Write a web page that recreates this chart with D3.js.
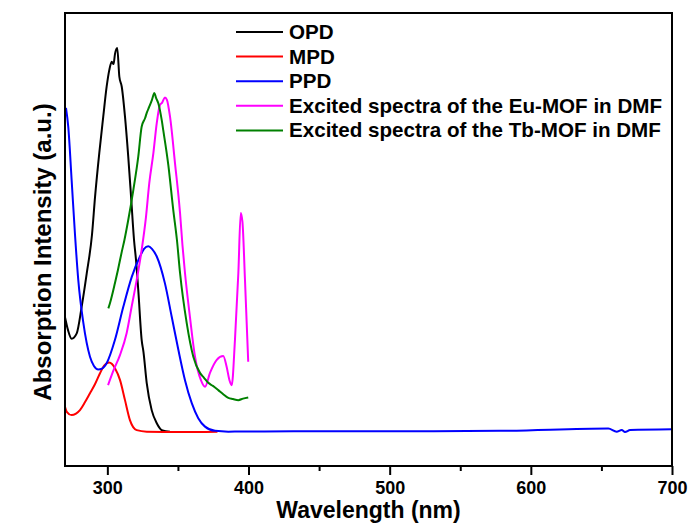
<!DOCTYPE html>
<html>
<head>
<meta charset="utf-8">
<script src="https://cdn.jsdelivr.net/npm/d3@7"></script>
<style>
  body { margin: 0; background: #fff; }
  text { font-family: Arial, "Liberation Sans", sans-serif; font-weight: bold; fill: #000; }
</style>
</head>
<body>
<div id="chart"></div>
<script>
// datos (longitud de onda en nm, intensidad en u.a.)
var opdWl  = [270.0, 272.1, 274.7, 278.3, 281.8, 285.4, 289.1, 291.3, 294.3, 297.1, 299.5, 301.4, 303.1, 304.4, 305.4, 307.0, 308.5, 310.2, 312.5, 314.8, 316.8, 318.9, 320.3, 321.9, 324.3, 325.6, 327.9, 331.4, 335.0, 339.1, 344.4];
var opdVal = [0.299, 0.266, 0.243, 0.257, 0.326, 0.413, 0.513, 0.613, 0.727, 0.821, 0.899, 0.943, 0.964, 0.958, 0.984, 1.0, 0.925, 0.899, 0.821, 0.717, 0.613, 0.5, 0.448, 0.370, 0.240, 0.208, 0.127, 0.057, 0.023, 0.004, 0.001];

var mpdWl  = [270.0, 271.4, 274.7, 277.8, 280.6, 284.2, 287.7, 291.3, 294.8, 297.6, 301.2, 303.3, 305.4, 309.0, 312.5, 316.0, 320.8, 327.9, 351.5, 378.0];
var mpdVal = [0.066, 0.052, 0.044, 0.048, 0.057, 0.078, 0.101, 0.125, 0.153, 0.172, 0.181, 0.177, 0.166, 0.135, 0.083, 0.031, 0.005, 0.001, 0.0, 0.001];

var ppdWl  = [270.7, 272.3, 274.7, 277.1, 279.4, 283.0, 287.7, 290.5, 293.6, 296.2, 299.5, 305.4, 311.3, 317.3, 323.1, 326.0, 329.0, 331.6, 335.0, 340.8, 345.6, 350.3, 355.0, 359.8, 364.4, 369.2, 376.3, 385.7, 436.5, 507.3, 578.2, 654.9, 660.8, 664.4, 666.7, 670.3, 700.0];
var ppdVal = [0.844, 0.795, 0.656, 0.513, 0.396, 0.284, 0.196, 0.172, 0.163, 0.165, 0.179, 0.240, 0.326, 0.404, 0.457, 0.477, 0.484, 0.477, 0.457, 0.387, 0.300, 0.214, 0.135, 0.075, 0.036, 0.014, 0.003, 0.001, 0.002, 0.002, 0.003, 0.009, 0.001, 0.005, 0.0, 0.005, 0.007];

var euWl  = [300.5, 304.2, 309.0, 313.7, 317.2, 320.8, 324.3, 327.4, 329.7, 332.6, 335.0, 337.3, 338.7, 340.8, 342.2, 344.4, 347.9, 351.5, 353.2, 355.0, 358.5, 362.1, 366.3, 369.2, 372.7, 377.5, 382.1, 384.5, 386.5, 388.1, 390.4, 392.8, 394.5, 395.7, 397.5, 399.8];
var euVal = [0.122, 0.159, 0.201, 0.258, 0.326, 0.396, 0.474, 0.561, 0.648, 0.726, 0.804, 0.852, 0.857, 0.871, 0.865, 0.821, 0.701, 0.570, 0.487, 0.414, 0.300, 0.196, 0.135, 0.118, 0.154, 0.188, 0.198, 0.170, 0.135, 0.122, 0.240, 0.414, 0.570, 0.547, 0.396, 0.183];

var tbWl  = [300.7, 301.9, 305.4, 307.5, 310.2, 312.1, 314.8, 318.4, 321.9, 324.3, 326.7, 328.1, 329.7, 331.6, 333.3, 334.5, 336.1, 338.5, 339.6, 343.2, 346.7, 349.3, 351.5, 356.2, 360.9, 365.6, 368.5, 371.5, 374.8, 378.6, 381.9, 385.7, 389.0, 392.8, 396.1, 399.8];
var tbVal = [0.322, 0.336, 0.388, 0.422, 0.469, 0.5, 0.552, 0.630, 0.717, 0.795, 0.817, 0.833, 0.847, 0.865, 0.883, 0.870, 0.856, 0.8125, 0.786, 0.695, 0.578, 0.5, 0.414, 0.284, 0.196, 0.154, 0.141, 0.128, 0.120, 0.109, 0.099, 0.089, 0.086, 0.083, 0.087, 0.090];

var seriesNames  = ["OPD", "MPD", "PPD", "Excited spectra of the Eu-MOF in DMF", "Excited spectra of the Tb-MOF in DMF"];
var seriesColors = ["#000000", "#ff0000", "#0000ff", "#ff00ff", "#008000"];
var majorTicks = [300, 400, 500, 600, 700];
var minorTicks = [350, 450, 550, 650];

var width = 689, height = 527,
    margin = {top: 13, right: 17, bottom: 61, left: 65};

var svg = d3.select("#chart").append("svg")
  .attr("width", width)
  .attr("height", height);

var x = d3.scaleLinear()
  .domain([270, 700])
  .range([margin.left, width - margin.right]);

var y = d3.scaleLinear()
  .domain([-0.0885, 1.091])
  .range([height - margin.bottom, margin.top]);

var series = [
  {wl: opdWl, val: opdVal},
  {wl: mpdWl, val: mpdVal},
  {wl: ppdWl, val: ppdVal},
  {wl: euWl, val: euVal},
  {wl: tbWl, val: tbVal}
];

var line = d3.line()
  .x(function(d) { return x(d[0]); })
  .y(function(d) { return y(d[1]); })
  .curve(d3.curveMonotoneX);

// curvas
series.forEach(function(s, i) {
  var pts = s.wl.map(function(w, j) { return [w, s.val[j]]; });
  svg.append("path")
    .datum(pts)
    .attr("d", line)
    .style("fill", "none")
    .style("stroke", seriesColors[i])
    .style("stroke-width", 2)
    .style("stroke-linejoin", "round");
});

// eje x con ticks mayores y menores
var xAxis = svg.append("g")
  .attr("transform", "translate(0," + (height - margin.bottom) + ")")
  .call(d3.axisBottom(x).tickValues(majorTicks).tickSize(9).tickPadding(6).tickFormat(d3.format("d")));
xAxis.select(".domain").remove();
xAxis.selectAll("line").style("stroke-width", 2);
xAxis.selectAll("text")
  .style("font-size", "18px")
  .style("font-family", "Arial, 'Liberation Sans', sans-serif")
  .style("font-weight", "bold");

var xMinor = svg.append("g")
  .attr("transform", "translate(0," + (height - margin.bottom) + ")")
  .call(d3.axisBottom(x).tickValues(minorTicks).tickSize(5).tickFormat(""));
xMinor.select(".domain").remove();
xMinor.selectAll("line").style("stroke-width", 2);

// marco
svg.append("rect")
  .attr("x", margin.left)
  .attr("y", margin.top)
  .attr("width", width - margin.left - margin.right)
  .attr("height", height - margin.top - margin.bottom)
  .style("fill", "none")
  .style("stroke", "#000")
  .style("stroke-width", 2);

// titulos de ejes
svg.append("text")
  .attr("x", (margin.left + width - margin.right) / 2)
  .attr("y", 518)
  .attr("text-anchor", "middle")
  .style("font-size", "23px")
  .text("Wavelength (nm)");

svg.append("text")
  .attr("transform", "translate(51,252) rotate(-90)")
  .attr("text-anchor", "middle")
  .style("font-size", "24px")
  .text("Absorption Intensity (a.u.)");

// leyenda
var legend = svg.append("g");
seriesNames.forEach(function(name, i) {
  var ly = 32 + i * 24.6;
  legend.append("line")
    .attr("x1", 236).attr("x2", 283)
    .attr("y1", ly).attr("y2", ly)
    .style("stroke", seriesColors[i])
    .style("stroke-width", 2);
  legend.append("text")
    .attr("x", 289)
    .attr("y", ly + 7)
    .style("font-size", "20.6px")
    .text(name);
});
</script>
</body>
</html>
